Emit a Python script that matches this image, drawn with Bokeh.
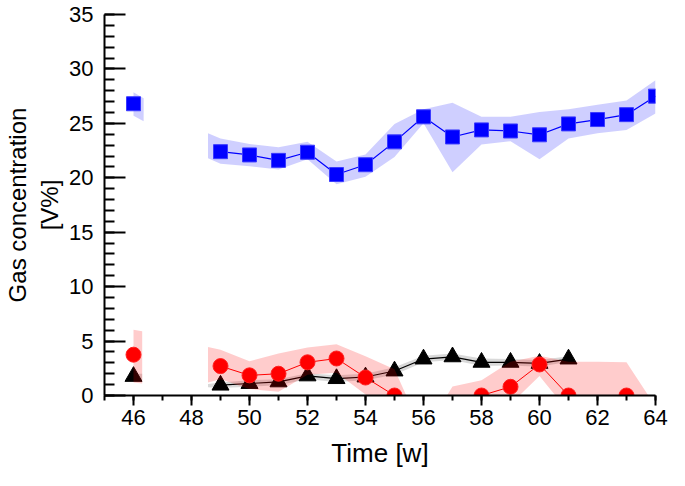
import math
from bokeh.plotting import figure
from bokeh.models import Range1d, SingleIntervalTicker
from bokeh.embed import file_html
from bokeh.resources import INLINE

nan = float("nan")

# ---- data ----
weeks = list(range(46, 65))
co2 = [26.8, nan, nan, 22.4, 22.1, 21.6, 22.35, 20.3, 21.2, 23.3, 25.6,
       23.75, 24.4, 24.3, 23.95, 24.95, 25.35, 25.8, 27.5]
o2 = [3.75, nan, nan, 2.7, 1.85, 2.0, 3.05, 3.4, 1.65, 0.0, nan,
      nan, 0.0, 0.8, 2.85, 0.0, nan, 0.0, nan]
ch4 = [1.75, nan, nan, 0.95, 1.1, 1.25, 1.8, 1.55, 1.7, 2.25, 3.35,
       3.55, 3.05, 3.05, 2.95, 3.35, nan, nan, nan]

# uncertainty bands (nan separates pieces)
co2_band_x = [46, 46.35, nan, 48.57, 49, 50, 51, 52, 53, 54, 55, 56, 57, 58, 59, 60, 61, 62, 63, 64]
co2_band_hi = [27.85, 27.3, nan, 24.1, 23.6, 23.1, 22.8, 23.3, 21.5, 22.15, 24.95, 26.3, 26.9,
               25.6, 25.6, 26.05, 26.3, 26.7, 27.1, 28.95]
co2_band_lo = [25.7, 25.2, nan, 21.8, 21.3, 21.05, 20.75, 21.7, 19.4, 20.1, 21.9, 25.0, 20.5,
               23.05, 23.35, 21.7, 23.6, 24.1, 24.4, 25.9]

o2_band_x = [46, 46.3, nan, 48.57, 49, 50, 51, 52, 53, 54, 55, 56, 57, 58, 59, 60, 61, 62, 63, 64]
o2_band_hi = [6.05, 5.9, nan, 4.45, 4.2, 3.15, 3.85, 4.4, 4.7, 3.6, 2.4, -3.5, 0.83,
              1.4, 3.1, 3.65, 3.1, 3.1, 3.05, -1.0]
o2_band_lo = [1.2, 1.1, nan, 1.2, 1.5, 0.6, 0.35, 1.9, 2.1, 0.1, -2.0, -6.0, -3.0,
              -1.0, -0.8, 1.8, -1.5, -2.0, -2.0, -4.0]

ch4_band_x = [46, 46.3, nan, 48.57, 49, 50, 51, 52, 53, 54, 55, 56, 57, 58, 59, 60, 61]
ch4_band_hi = [2.0, 2.0, nan, 1.05, 1.2, 1.4, 1.5, 2.05, 1.85, 2.0, 2.6, 3.65, 3.85,
               3.4, 3.35, 3.25, 3.6]
ch4_band_lo = [1.4, 1.4, nan, 0.75, 0.7, 0.8, 0.95, 1.5, 1.25, 1.4, 1.9, 3.05, 3.25,
               2.7, 2.75, 2.65, 3.1]

x_title = "Time [w]"
y_title = "Gas concentration\n[V%]"

FONT = "Liberation Sans"


def pieces(xs, lo, hi):
    out, cx, cl, ch = [], [], [], []
    for a, b, c in zip(xs, lo, hi):
        if isinstance(a, float) and math.isnan(a):
            if cx:
                out.append((cx, cl, ch))
            cx, cl, ch = [], [], []
        else:
            cx.append(a); cl.append(b); ch.append(c)
    if cx:
        out.append((cx, cl, ch))
    return out


p = figure(width=669, height=470, output_backend="svg", toolbar_location=None,
           x_range=Range1d(45, 64), y_range=Range1d(0, 35),
           min_border_left=100, min_border_right=14, min_border_top=14, min_border_bottom=72)
p.outline_line_color = None
p.grid.visible = False
p.background_fill_color = "white"
p.border_fill_color = "white"

# CO2 (blue)
for xs, lo, hi in pieces(co2_band_x, co2_band_lo, co2_band_hi):
    p.varea(x=xs, y1=lo, y2=hi, fill_color="#0000ff", fill_alpha=0.19)
p.line(weeks, co2, line_color="#0000ff", line_width=1.2)
p.scatter(weeks, co2, marker="square", size=14, fill_color="#0000ff", line_color="#3a3aff", line_width=1)

# CH4 (black)
for xs, lo, hi in pieces(ch4_band_x, ch4_band_lo, ch4_band_hi):
    p.varea(x=xs, y1=lo, y2=hi, fill_color="#000000", fill_alpha=0.15)
p.line(weeks, ch4, line_color="#000000", line_width=1.2)
p.scatter(weeks, ch4, marker="triangle", size=17, fill_color="#000000", line_color="#000000")

# O2 (red)
for xs, lo, hi in pieces(o2_band_x, o2_band_lo, o2_band_hi):
    p.varea(x=xs, y1=lo, y2=hi, fill_color="#ff0000", fill_alpha=0.2)
p.line(weeks, o2, line_color="#ff0000", line_width=1)
p.scatter(weeks, o2, marker="circle", size=15, fill_color="#ff0000", line_color="#ff2020")

# axes
xa = p.xaxis[0]
xa.ticker = SingleIntervalTicker(interval=2, num_minor_ticks=2)
xa.axis_label = x_title
xa.major_tick_in = 0
xa.major_tick_out = 10
xa.minor_tick_in = 0
xa.minor_tick_out = 5
xa.major_label_standoff = 4
xa.axis_label_standoff = 10

ya = p.yaxis[0]
ya.ticker = SingleIntervalTicker(interval=5, num_minor_ticks=5)
ya.axis_label = y_title
ya.major_tick_in = 21
ya.major_tick_out = 0
ya.minor_tick_in = 10
ya.minor_tick_out = 0
ya.major_label_standoff = 11
ya.axis_label_standoff = 3

for ax in (xa, ya):
    ax.axis_line_width = 2
    ax.major_tick_line_width = 2
    ax.minor_tick_line_width = 2
    ax.axis_line_color = "black"
    ax.major_tick_line_color = "black"
    ax.minor_tick_line_color = "black"
    ax.major_label_text_font = FONT
    ax.major_label_text_font_size = "22px"
    ax.major_label_text_color = "black"
    ax.axis_label_text_font = FONT
    ax.axis_label_text_font_style = "normal"
    ax.axis_label_text_color = "black"
xa.axis_label_text_font_size = "26px"
ya.axis_label_text_font_size = "24px"

open("out.html", "w").write(file_html(p, INLINE))
